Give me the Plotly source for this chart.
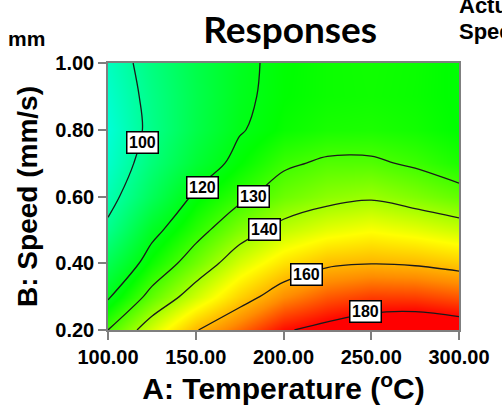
import plotly.graph_objects as go

# Factor grid: A (temperature, degC) and B (speed, mm/s)
temperature = [100, 125, 150, 175, 200, 225, 250, 275, 300]
speed = [0.2, 0.3, 0.4, 0.5, 0.6, 0.7, 0.8, 0.9, 1.0]

# Predicted response, one row per speed value (bottom to top)
resp_s020 = [130.0, 145.1, 159.4, 168.9, 179.0, 183.0, 186.5, 188.0, 186.0]
resp_s030 = [118.9, 132.7, 144.4, 155.7, 165.1, 170.8, 173.7, 173.5, 171.1]
resp_s040 = [110.5, 123.9, 134.3, 145.1, 153.3, 158.4, 159.7, 158.9, 156.6]
resp_s050 = [102.1, 117.5, 127.0, 136.0, 142.8, 146.7, 148.9, 146.8, 143.9]
resp_s060 = [96.5, 109.8, 121.5, 128.2, 134.0, 137.3, 138.9, 136.1, 133.0]
resp_s070 = [92.7, 105.1, 115.0, 122.5, 128.7, 131.2, 131.2, 128.9, 125.5]
resp_s080 = [90.9, 102.5, 112.0, 119.4, 123.5, 125.2, 125.5, 124.5, 122.5]
resp_s090 = [92.6, 103.0, 111.5, 118.4, 122.5, 123.8, 124.2, 123.6, 122.2]
resp_s100 = [94.5, 104.1, 111.9, 118.0, 122.3, 123.8, 124.3, 123.7, 122.2]
response = [resp_s020, resp_s030, resp_s040, resp_s050, resp_s060,
            resp_s070, resp_s080, resp_s090, resp_s100]

# Contour levels drawn, and where each level's label box sits (A, B)
levels = [100, 120, 130, 140, 160, 180]
label_temp = [119.4, 153.9, 182.8, 188.9, 213.3, 246.7]
label_speed = [0.761, 0.627, 0.600, 0.500, 0.367, 0.254]

x_ticks = [100, 150, 200, 250, 300]
y_ticks = [0.2, 0.4, 0.6, 0.8, 1.0]

FONT = "Liberation Sans, Arial, sans-serif"
AXIS_GRAY = "#7f7f7f"

colorscale = [
    [0.0, "rgb(0,255,235)"],
    [0.35, "rgb(0,255,0)"],
    [0.62, "rgb(255,255,0)"],
    [0.78, "rgb(255,140,0)"],
    [0.93, "rgb(255,0,0)"],
    [1.0, "rgb(255,0,0)"],
]

fig = go.Figure()

fig.add_trace(go.Heatmap(
    x=temperature, y=speed, z=response,
    colorscale=colorscale, zmin=88, zmax=187,
    zsmooth="best", showscale=False, hoverinfo="skip",
))

for lev in levels:
    fig.add_trace(go.Contour(
        x=temperature, y=speed, z=response,
        autocontour=False,
        contours=dict(start=lev, end=lev, size=1, coloring="none"),
        line=dict(color="#1a1a1a", width=1.3, smoothing=1.0),
        showscale=False, hoverinfo="skip",
    ))

for lev, tx, sy in zip(levels, label_temp, label_speed):
    fig.add_annotation(
        x=tx, y=sy, xref="x", yref="y", text=str(lev), showarrow=False,
        font=dict(family=FONT, size=16, color="black", weight="bold"),
        bgcolor="white", bordercolor="black", borderwidth=1.5, borderpad=1.5,
    )

fig.add_annotation(x=-0.29, y=1.09, xref="paper", yref="paper", text="mm",
                   showarrow=False, xanchor="left", yanchor="middle",
                   font=dict(family=FONT, size=21, color="black", weight="bold"))
fig.add_annotation(x=0.995, y=1.215, xref="paper", yref="paper", text="Actual Factors",
                   showarrow=False, xanchor="left", yanchor="middle",
                   font=dict(family=FONT, size=22, color="black", weight="bold"))
fig.add_annotation(x=0.995, y=1.117, xref="paper", yref="paper", text="Speed = 0.60",
                   showarrow=False, xanchor="left", yanchor="middle",
                   font=dict(family=FONT, size=22, color="black", weight="bold"))

fig.update_layout(
    width=502, height=406,
    margin=dict(l=108, r=34, t=63, b=75),
    paper_bgcolor="white", plot_bgcolor="white",
    showlegend=False,
    title=dict(text="Responses", x=0.578, xanchor="center", y=0.926, yanchor="middle",
               font=dict(family="Lato, sans-serif", size=37, color="black", weight="bold")),
    xaxis=dict(
        range=[100, 300], tickvals=x_ticks, ticktext=[f"{v:.2f}" for v in x_ticks],
        ticks="outside", ticklen=8, tickcolor=AXIS_GRAY, tickwidth=1.5,
        showline=True, linecolor=AXIS_GRAY, linewidth=1.5, mirror=True,
        showgrid=False, zeroline=False,
        tickfont=dict(family=FONT, size=20, color="black", weight="bold"),
        title=dict(text="A: Temperature (<sup>o</sup>C)", standoff=5,
                   font=dict(family=FONT, size=30, color="black", weight="bold")),
    ),
    yaxis=dict(
        range=[0.2, 1.0], tickvals=y_ticks, ticktext=[f"{v:.2f}" for v in y_ticks],
        ticks="outside", ticklen=8, tickcolor=AXIS_GRAY, tickwidth=1.5,
        showline=True, linecolor=AXIS_GRAY, linewidth=1.5, mirror=True,
        showgrid=False, zeroline=False,
        tickfont=dict(family=FONT, size=20, color="black", weight="bold"),
        title=dict(text="B: Speed (mm/s)", standoff=10,
                   font=dict(family=FONT, size=28, color="black", weight="bold")),
    ),
)

fig.write_html("out.html")
